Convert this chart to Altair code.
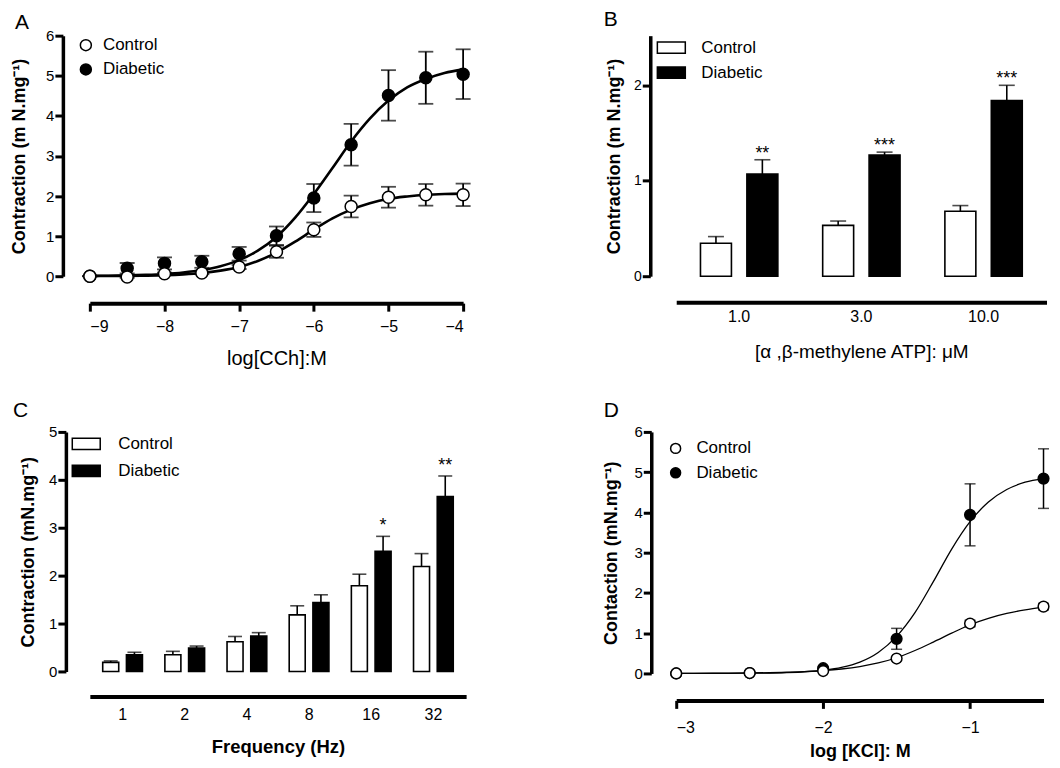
import altair as alt
import pandas as pd

FONT = "Liberation Sans"
GROUPS = ["Control", "Diabetic"]

# ---------------- Panel A : carbachol ----------------
A_logc = [-9, -8.5, -8, -7.5, -7, -6.5, -6, -5.5, -5, -4.5, -4]
A_ctrl = [0.0, -0.02, 0.06, 0.08, 0.23, 0.61, 1.16, 1.74, 1.97, 2.03, 2.03]
A_ctrl_sem = [0.0, 0.02, 0.03, 0.03, 0.05, 0.15, 0.18, 0.27, 0.26, 0.27, 0.28]
A_diab = [0.0, 0.20, 0.32, 0.36, 0.56, 1.01, 1.95, 3.28, 4.51, 4.95, 5.04]
A_diab_sem = [0.0, 0.13, 0.15, 0.15, 0.17, 0.23, 0.35, 0.52, 0.63, 0.65, 0.62]
A_fit_x = [-9, -8.75, -8.5, -8.25, -8, -7.75, -7.5, -7.25, -7, -6.75, -6.5,
           -6.25, -6, -5.75, -5.5, -5.25, -5, -4.75, -4.5, -4.25, -4]
A_fit_ctrl = [0.003, 0.005, 0.008, 0.015, 0.026, 0.046, 0.08, 0.14, 0.23, 0.38, 0.59,
              0.86, 1.16, 1.44, 1.66, 1.82, 1.93, 1.99, 2.03, 2.05, 2.06]
A_fit_diab = [0.008, 0.013, 0.021, 0.035, 0.057, 0.094, 0.154, 0.25, 0.40, 0.64, 0.98,
              1.46, 2.05, 2.70, 3.36, 3.93, 4.38, 4.71, 4.92, 5.07, 5.16]

# ---------------- Panel B : alpha,beta-methylene ATP ----------------
B_conc = ["1.0", "3.0", "10.0"]
B_ctrl = [0.345, 0.533, 0.68]
B_ctrl_sem = [0.07, 0.045, 0.06]
B_diab = [1.07, 1.27, 1.84]
B_diab_sem = [0.15, 0.03, 0.16]
B_stars = ["**", "***", "***"]

# ---------------- Panel C : EFS frequency ----------------
C_freq = ["1", "2", "4", "8", "16", "32"]
C_ctrl = [0.19, 0.35, 0.62, 1.18, 1.79, 2.19]
C_ctrl_sem = [0.03, 0.07, 0.11, 0.19, 0.24, 0.27]
C_diab = [0.35, 0.49, 0.74, 1.44, 2.51, 3.65]
C_diab_sem = [0.05, 0.04, 0.07, 0.16, 0.31, 0.43]
C_stars = ["", "", "", "", "*", "**"]

# ---------------- Panel D : KCl ----------------
D_logc = [-3, -2.5, -2, -1.5, -1, -0.5]
D_ctrl = [0.0, 0.01, 0.06, 0.37, 1.24, 1.66]
D_ctrl_sem = [0.0, 0.0, 0.01, 0.05, 0.08, 0.08]
D_diab = [0.0, 0.01, 0.13, 0.86, 3.94, 4.84]
D_diab_sem = [0.0, 0.0, 0.03, 0.26, 0.77, 0.74]
D_fit_x = [-3, -2.75, -2.5, -2.25, -2, -1.875, -1.75, -1.625, -1.5, -1.375, -1.25,
           -1.125, -1, -0.875, -0.75, -0.625, -0.5]
D_fit_ctrl = [0.0, 0.005, 0.012, 0.03, 0.07, 0.11, 0.17, 0.26, 0.39, 0.57, 0.78,
              1.0, 1.21, 1.37, 1.49, 1.58, 1.65]
D_fit_diab = [0.0, 0.002, 0.006, 0.021, 0.079, 0.149, 0.28, 0.52, 0.92, 1.51, 2.28,
              3.09, 3.77, 4.26, 4.57, 4.75, 4.84]


def point_frame(x, ctrl, ctrl_sem, diab, diab_sem):
    df = pd.DataFrame({
        "x": list(x) + list(x),
        "mean": list(diab) + list(ctrl),
        "sem": list(diab_sem) + list(ctrl_sem),
        "group": ["Diabetic"] * len(x) + ["Control"] * len(x),
    })
    df["lo"] = df["mean"] - df["sem"]
    df["hi"] = df["mean"] + df["sem"]
    return df


def cap_frame(df, cols):
    parts = []
    for c in cols:
        parts.append(df[["x", "group", c]].rename(columns={c: "cap"}))
    return pd.concat(parts, ignore_index=True)


def fit_frame(x, ctrl, diab):
    return pd.DataFrame({
        "x": list(x) + list(x),
        "value": list(diab) + list(ctrl),
        "group": ["Diabetic"] * len(x) + ["Control"] * len(x),
    })


def bar_frame(cats, ctrl, ctrl_sem, diab, diab_sem, stars):
    df = pd.DataFrame({
        "cat": list(cats) + list(cats),
        "mean": list(ctrl) + list(diab),
        "sem": list(ctrl_sem) + list(diab_sem),
        "group": ["Control"] * len(cats) + ["Diabetic"] * len(cats),
        "star": [""] * len(cats) + list(stars),
    })
    df["hi"] = df["mean"] + df["sem"]
    return df


def y_axis(title, values, label_size, title_pad, offset):
    return alt.Axis(title=title, values=values, format="d", tickSize=8, tickWidth=3,
                    domainWidth=3.5, labelFontSize=label_size, labelPadding=1,
                    titleFontSize=18, titleFontWeight="bold", titlePadding=title_pad,
                    offset=offset, grid=False)


def letter_title(letter, dx, off):
    return alt.TitleParams(letter, anchor="start", frame="group", dx=dx, offset=off,
                           fontSize=21, fontWeight="normal")


def curve_panel(pts, fit, xdom, xvals, xtitle, xtitle_size, xtitle_weight,
                x_offset, x_lab_pad, x_title_pad, ytitle, y_offset, y_title_pad,
                width, height, lw, ew, cap, psize,
                legend_x, legend_y, legend_sym, label_off, row_pad,
                letter, letter_dx, letter_off):
    xs = alt.Scale(domain=xdom, nice=False, zero=False)
    ys = alt.Scale(domain=[0, 6], nice=False, zero=False)
    xax = alt.Axis(title=xtitle, values=xvals, format="d", offset=x_offset, domainWidth=4,
                   tickWidth=3, tickSize=8, labelFontSize=16, labelPadding=x_lab_pad,
                   titleFontSize=xtitle_size, titleFontWeight=xtitle_weight,
                   titlePadding=x_title_pad, grid=False)
    yax = y_axis(ytitle, [0, 1, 2, 3, 4, 5, 6], 15, y_title_pad, y_offset)
    X = alt.X("x:Q", scale=xs, axis=xax)
    caps = cap_frame(pts, ["lo", "hi"])

    lines = alt.Chart(fit).mark_line(color="black", strokeWidth=lw, interpolate="monotone").encode(
        x=X, y=alt.Y("value:Q", scale=ys, axis=yax), detail="group:N")
    err = alt.Chart(pts).mark_rule(color="black", strokeWidth=ew).encode(
        x=X, y=alt.Y("lo:Q", scale=ys, axis=yax), y2="hi:Q")
    capm = alt.Chart(caps).mark_tick(color="black", orient="horizontal", size=cap,
                                     thickness=ew).encode(
        x=X, y=alt.Y("cap:Q", scale=ys, axis=yax))
    pts_m = alt.Chart(pts).mark_point(filled=True, size=psize, stroke="black",
                                      strokeWidth=1.5, opacity=1).encode(
        x=X, y=alt.Y("mean:Q", scale=ys, axis=yax),
        fill=alt.Fill("group:N", scale=alt.Scale(domain=GROUPS, range=["white", "black"]),
                      legend=alt.Legend(title=None, orient="none", legendX=legend_x,
                                        legendY=legend_y, symbolType="circle",
                                        symbolSize=legend_sym, symbolStrokeColor="black",
                                        symbolStrokeWidth=1.5, labelFontSize=17,
                                        labelOffset=label_off, rowPadding=row_pad, padding=0)))
    return alt.layer(lines, err, capm, pts_m).properties(
        width=width, height=height, title=letter_title(letter, letter_dx, letter_off))


def bar_panel(df, cats, po, opi, opo, xtitle, xtitle_size, xtitle_weight, x_offset,
              x_lab_pad, x_title_pad, ydom, yvals, ytitle, ylabel, y_offset, y_title_pad,
              width, height, cap, star_dy, legend_x, legend_y, row_pad, label_off,
              letter, letter_dx, letter_off):
    xs = alt.Scale(paddingInner=0, paddingOuter=po)
    ys = alt.Scale(domain=ydom, nice=False, zero=False)
    xax = alt.Axis(title=xtitle, ticks=False, offset=x_offset, domainWidth=4, labelAngle=0,
                   labelFontSize=16, labelPadding=x_lab_pad, titleFontSize=xtitle_size,
                   titleFontWeight=xtitle_weight, titlePadding=x_title_pad, grid=False)
    yax = y_axis(ytitle, yvals, ylabel, y_title_pad, y_offset)
    X = alt.X("cat:N", sort=cats, scale=xs, axis=xax)
    XO = alt.XOffset("group:N", sort=GROUPS, scale=alt.Scale(paddingInner=opi, paddingOuter=opo))
    rect_path = "M-1,-0.4H1V0.4H-1Z"
    bars = alt.Chart(df).mark_bar(stroke="black", strokeWidth=1.6).encode(
        x=X, xOffset=XO, y=alt.Y("mean:Q", scale=ys, axis=yax),
        fill=alt.Fill("group:N", scale=alt.Scale(domain=GROUPS, range=["white", "black"]),
                      legend=alt.Legend(title=None, orient="none", legendX=legend_x,
                                        legendY=legend_y, symbolType=rect_path,
                                        symbolSize=784, symbolStrokeColor="black",
                                        symbolStrokeWidth=1.5, labelFontSize=17,
                                        labelOffset=label_off, rowPadding=row_pad, padding=0)))
    err = alt.Chart(df).mark_rule(color="black", strokeWidth=1.6).encode(
        x=X, xOffset=XO, y=alt.Y("mean:Q", scale=ys, axis=yax), y2="hi:Q")
    capm = alt.Chart(df).mark_tick(color="black", orient="horizontal", size=cap,
                                   thickness=1.6).encode(
        x=X, xOffset=XO, y=alt.Y("hi:Q", scale=ys, axis=yax))
    stars = alt.Chart(df).mark_text(fontSize=18, baseline="alphabetic", dy=star_dy,
                                    color="black").encode(
        x=X, xOffset=XO, y=alt.Y("hi:Q", scale=ys, axis=yax), text="star:N")
    return alt.layer(bars, err, capm, stars).properties(
        width=width, height=height, title=letter_title(letter, letter_dx, letter_off))


A_pts = point_frame(A_logc, A_ctrl, A_ctrl_sem, A_diab, A_diab_sem)
A_fit = fit_frame(A_fit_x, A_fit_ctrl, A_fit_diab)
D_pts = point_frame(D_logc, D_ctrl, D_ctrl_sem, D_diab, D_diab_sem)
D_fit = fit_frame(D_fit_x, D_fit_ctrl, D_fit_diab)
B_df = bar_frame(B_conc, B_ctrl, B_ctrl_sem, B_diab, B_diab_sem, B_stars)
C_df = bar_frame(C_freq, C_ctrl, C_ctrl_sem, C_diab, C_diab_sem, C_stars)

panelA = curve_panel(A_pts, A_fit, [-9, -4], [-9, -8, -7, -6, -5, -4],
                     "log[CCh]:M", 20, "normal", 27, 7, 14,
                     "Contraction (m N.mg⁻¹)", 27, 17,
                     374, 241, 2.6, 1.8, 15, 144,
                     -12.5, 1, 121, 8.6, 6.3, "A", -75, -4)
panelB = bar_panel(B_df, B_conc, 0.015, 0.333, 0.483,
                   "[α ,β-methylene ATP]: μM", 19, "normal", 26, 6.6, 18,
                   [0, 2.52], [0, 1, 2], "Contraction (m N.mg⁻¹)", 14, 26, 10.5,
                   371, 241, 16, -1, -19.9, -3, 1, 15, "B", -72.5, 3)
panelC = bar_panel(C_df, C_freq, 0.0266, 0.325, 0.473,
                   "Frequency (Hz)", 18.5, "bold", 25, 10.6, 15,
                   [0, 5], [0, 1, 2, 3, 4, 5], "Contraction (mN.mg⁻¹)", 15, 24, 11,
                   377, 240, 14, -5, -18.6, -3, 3, 17, "C", -77, 4)
panelD = curve_panel(D_pts, D_fit, [-3, -0.5], [-3, -2, -1],
                     "log [KCl]: M", 18, "bold", 27, 11, 7,
                     "Contaction (mN.mg⁻¹)", 25, 13,
                     368, 242, 1.3, 1.5, 11, 115,
                     -9.1, 8, 100, 12.3, 6.5, "D", -72.5, 4)

chart = alt.concat(panelA, panelB, panelC, panelD, columns=2,
                   spacing={"row": 156, "column": 210.5}, bounds="flush").resolve_scale(
    fill="independent", x="independent", y="independent", xOffset="independent"
).resolve_legend(fill="independent").properties(
    padding={"left": 2, "top": 0, "right": 0, "bottom": 0}
).configure_view(stroke=None).configure_axis(
    domainColor="black", tickColor="black", labelColor="black", titleColor="black",
    labelFont=FONT, titleFont=FONT, grid=False
).configure_legend(labelFont=FONT, labelColor="black").configure_title(
    font=FONT, color="black").configure_text(font=FONT)

chart.save("out.html", embed_options={"renderer": "svg", "actions": False})
